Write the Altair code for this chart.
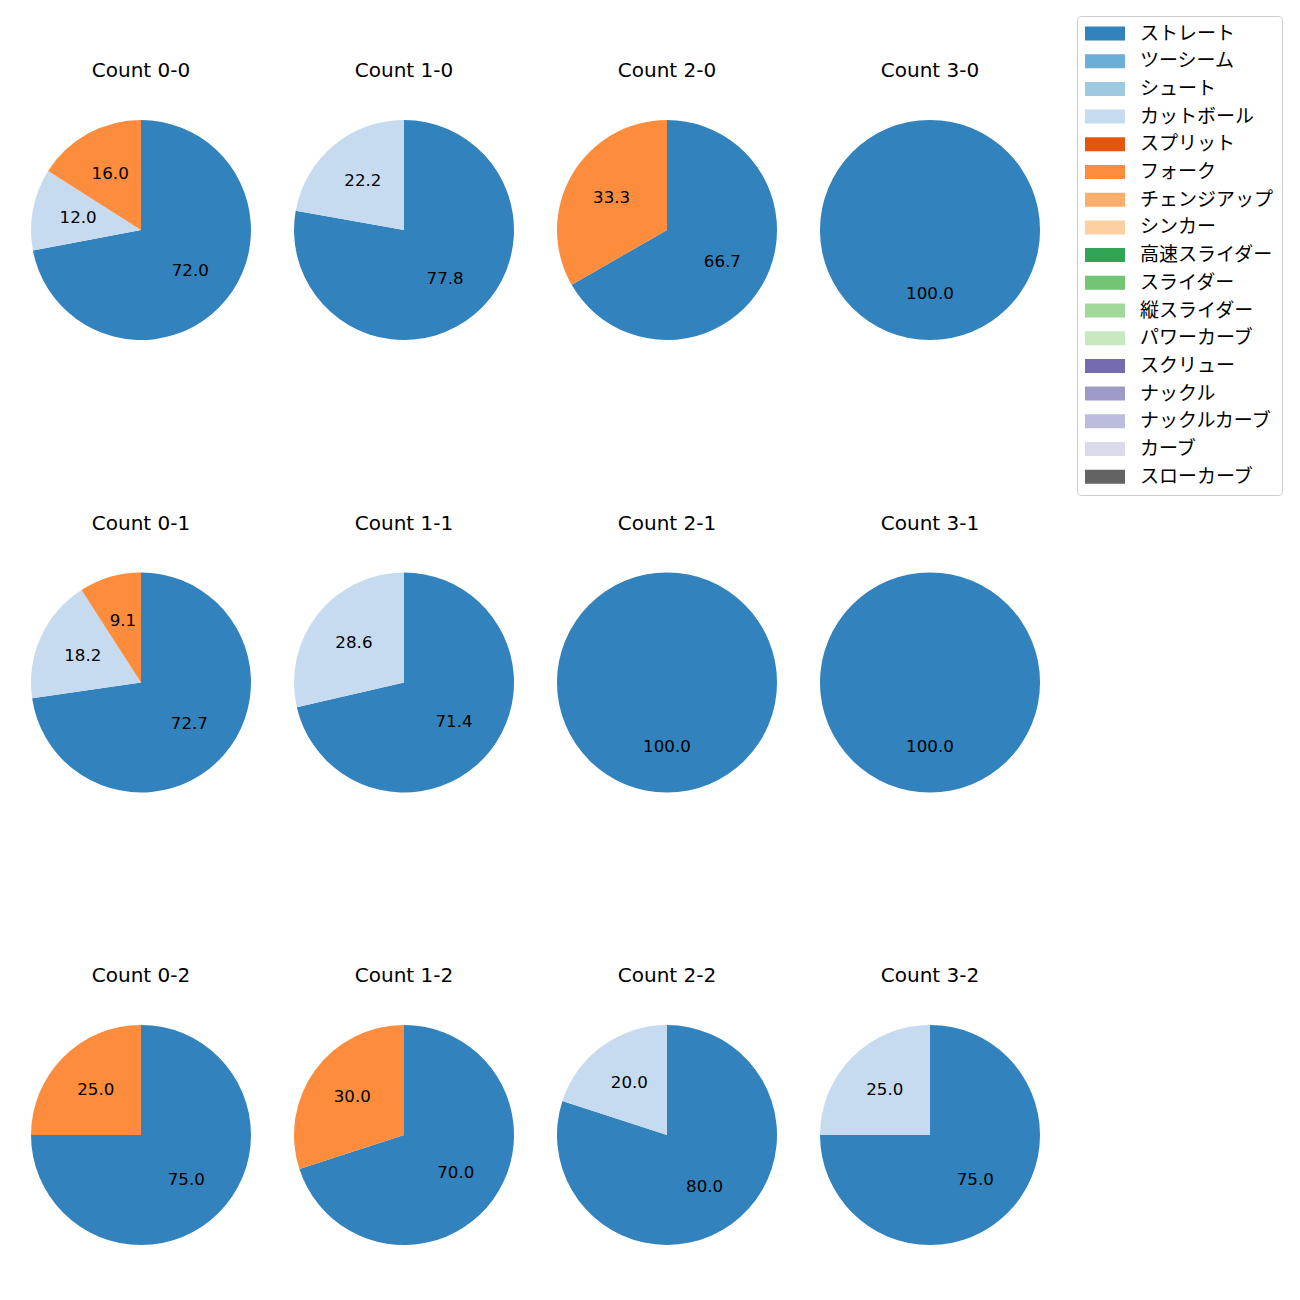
import altair as alt
import pandas as pd

pitch_names = ["ストレート", "ツーシーム", "シュート", "カットボール", "スプリット", "フォーク",
               "チェンジアップ", "シンカー", "高速スライダー", "スライダー", "縦スライダー",
               "パワーカーブ", "スクリュー", "ナックル", "ナックルカーブ", "カーブ", "スローカーブ"]
pitch_colors = ["#3182bd", "#6baed6", "#9ecae1", "#c6dbef", "#e6550d", "#fd8d3c",
                "#fdae6b", "#fdd0a2", "#31a354", "#74c476", "#a1d99b", "#c7e9c0",
                "#756bb1", "#9e9ac8", "#bcbddc", "#dadaeb", "#636363"]

count_labels = ["0-0", "1-0", "2-0", "3-0",
                "0-1", "1-1", "2-1", "3-1",
                "0-2", "1-2", "2-2", "3-2"]
panel_pitches = [
    ["ストレート", "カットボール", "フォーク"],
    ["ストレート", "カットボール"],
    ["ストレート", "フォーク"],
    ["ストレート"],
    ["ストレート", "カットボール", "フォーク"],
    ["ストレート", "カットボール"],
    ["ストレート"],
    ["ストレート"],
    ["ストレート", "フォーク"],
    ["ストレート", "フォーク"],
    ["ストレート", "カットボール"],
    ["ストレート", "カットボール"],
]
panel_values = [
    [72.0, 12.0, 16.0],
    [77.8, 22.2],
    [66.7, 33.3],
    [100.0],
    [72.7, 18.2, 9.1],
    [71.4, 28.6],
    [100.0],
    [100.0],
    [75.0, 25.0],
    [70.0, 30.0],
    [80.0, 20.0],
    [75.0, 25.0],
]

rows = []
for c, ps, vs in zip(count_labels, panel_pitches, panel_values):
    for p, v in zip(ps, vs):
        rows.append({"count": c, "pitch": p, "value": v, "idx": pitch_names.index(p),
                     "label": f"{v:.1f}"})
df = pd.DataFrame(rows)

LATIN = "DejaVu Sans"
CJK = "Noto Sans CJK JP"
color_scale = alt.Scale(domain=pitch_names, range=pitch_colors)


def pie(c):
    base = alt.Chart(df).transform_filter(alt.datum["count"] == c).encode(
        theta=alt.Theta("value:Q", stack=True, scale=alt.Scale(domain=[0, 100])),
        order=alt.Order("idx:Q", sort="ascending"),
    )
    arcs = base.mark_arc(outerRadius=110).encode(
        color=alt.Color("pitch:N", scale=color_scale,
                        legend=alt.Legend(title=None, orient="none", legendX=1046, legendY=-104)),
    )
    labels = base.mark_text(radius=64, font=LATIN, fontSize=16.7, color="black").encode(
        text="label:N"
    )
    return (arcs + labels).properties(
        width=220, height=220,
        title=alt.TitleParams(f"Count {c}", fontSize=20, font=LATIN, fontWeight="normal",
                              offset=39, anchor="middle", color="black"),
    )


grid_rows = []
for r in range(3):
    grid_rows.append(alt.hconcat(*[pie(count_labels[r * 4 + k]) for k in range(4)], spacing=43))

chart = alt.vconcat(*grid_rows, spacing=173.5).properties(
    padding={"left": 23, "top": 7, "right": 5, "bottom": 5}
).configure_view(stroke=None).configure_legend(
    labelFont=CJK, labelFontSize=19, labelColor="black",
    symbolType="M-1,-0.35L1,-0.35L1,0.35L-1,0.35Z", symbolSize=1600,
    symbolStrokeWidth=0, clipHeight=19, rowPadding=7.7,
    labelOffset=15, padding=8, strokeColor="#cccccc", cornerRadius=4,
    fillColor="white", symbolOpacity=1,
)

chart.save("out.html", embed_options={"renderer": "svg", "actions": False})
